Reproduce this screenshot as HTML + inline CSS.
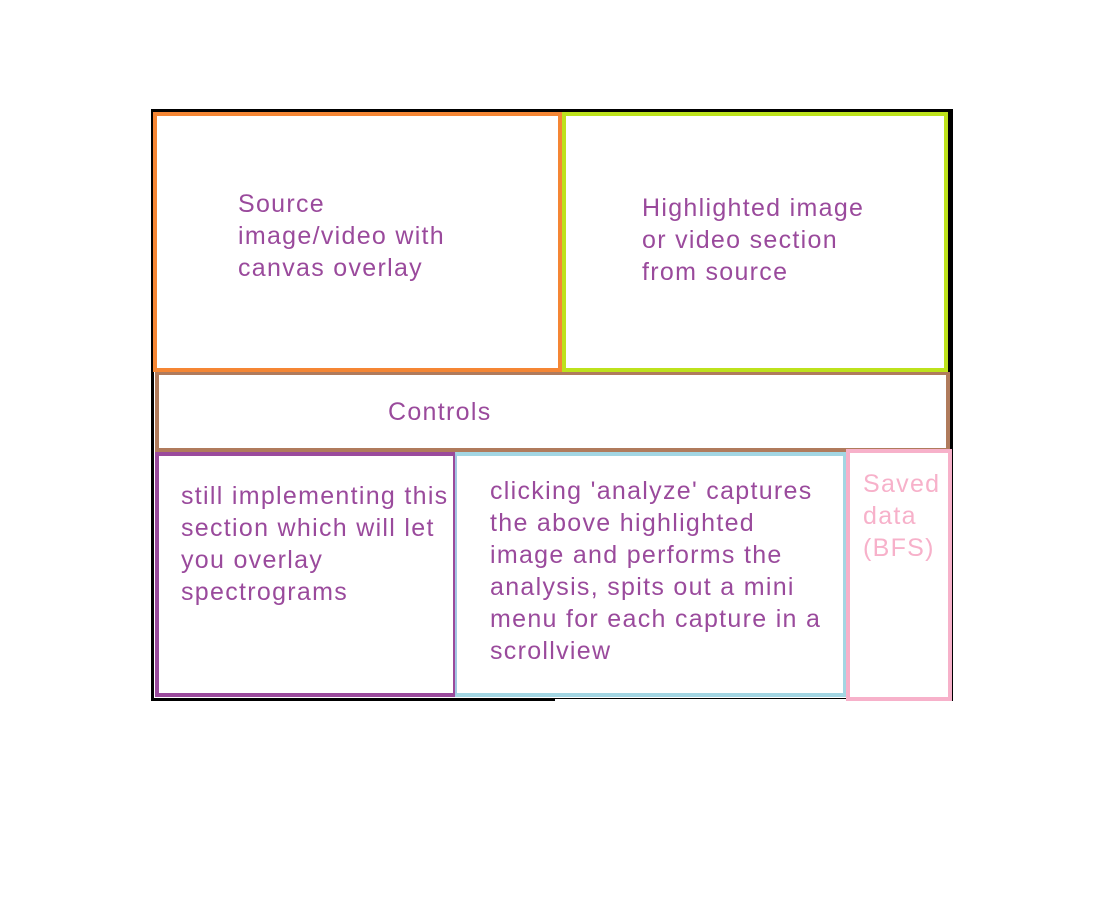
<!DOCTYPE html>
<html><head><style>
body{margin:0;width:1104px;height:912px;background:#fff;position:relative;overflow:hidden;font-family:"Liberation Sans",sans-serif;}
div{position:absolute;box-sizing:border-box;}
.t{color:#9a4a9c;font-size:25px;line-height:32px;white-space:nowrap;letter-spacing:1.3px;}
</style></head><body>
<div style="left:151px;top:109px;width:802px;height:592px;background:#000"></div>
<div style="left:154px;top:112px;width:792px;height:586px;background:#fff"></div>
<div style="left:555px;top:698px;width:300px;height:3px;background:#fff"></div>
<div style="left:555px;top:698px;width:292px;height:1px;background:#000"></div>
<div style="left:153px;top:112px;width:409px;height:260px;border:4px solid #f58634"></div>
<div style="left:562px;top:112px;width:386px;height:260px;border:4px solid #bde21c"></div>
<div style="left:155px;top:372px;width:795px;height:80px;border:4px solid #b07b5c;border-top-width:3px"></div>
<div style="left:155px;top:452px;width:302px;height:245px;border:4px solid #9a4a9c"></div>
<div style="left:455px;top:452px;width:392px;height:245px;border:4px solid #a3d6e3;border-left:2px solid #a3c6e3"></div>
<div style="left:846px;top:449px;width:106px;height:252px;border:4px solid #f7b1ca;background:#fff"></div>
<div class="t" style="left:238px;top:188px">Source<br>image/video with<br>canvas overlay</div>
<div class="t" style="left:642px;top:192px">Highlighted image<br>or video section<br>from source</div>
<div class="t" style="left:388px;top:396px">Controls</div>
<div class="t" style="left:181px;top:480px">still implementing this<br>section which will let<br>you overlay<br>spectrograms</div>
<div class="t" style="left:490px;top:475px">clicking 'analyze' captures<br>the above highlighted<br>image and performs the<br>analysis, spits out a mini<br>menu for each capture in a<br>scrollview</div>
<div class="t" style="left:863px;top:468px;color:#f7b1ca">Saved<br>data<br>(BFS)</div>
</body></html>
